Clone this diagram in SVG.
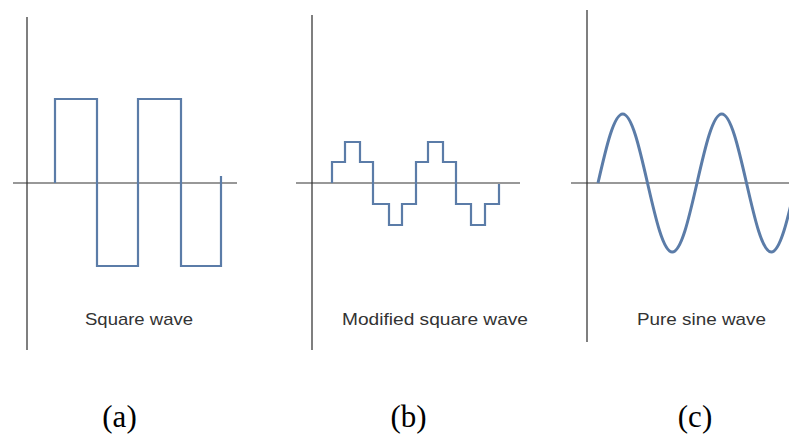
<svg xmlns="http://www.w3.org/2000/svg" width="789" height="434" viewBox="0 0 789 434">
<style>
.axis{stroke:#555;stroke-width:1.5;fill:none}
.haxis{stroke:#333;stroke-width:1.2;fill:none}
.wave{stroke:#5b7ca8;stroke-width:2.2;fill:none;stroke-linejoin:miter}
.sine{stroke:#5b7ca8;stroke-width:3;fill:none}
.lbl{font-family:"Liberation Sans",Arial,sans-serif;font-size:17px;fill:#333}
.cap{font-family:"Liberation Serif","Times New Roman",serif;font-size:31px;fill:#000;text-anchor:middle}
</style>
<rect width="789" height="434" fill="#fff"/>
<g id="panel-a">
<line class="axis" x1="27" y1="17" x2="27" y2="350"/>
<line class="haxis" x1="13" y1="183" x2="237" y2="183"/>
<path class="wave" d="M55,183 V99 H97 V266 H138 V99 H181 V266 H221 V176"/>
<text class="lbl" x="85" y="325" textLength="108" lengthAdjust="spacingAndGlyphs">Square wave</text>
<text class="cap" x="119.5" y="427">(a)</text>
</g>
<g id="panel-b">
<line class="axis" x1="312" y1="15" x2="312" y2="350"/>
<line class="haxis" x1="296" y1="183" x2="520" y2="183"/>
<path class="wave" d="M332,183 V162 H345 V142 H360 V162 H373 V204 H389 V225 H402 V204 H416 V162 H428 V142 H443 V162 H456 V204 H471 V225 H485 V204 H499 V184"/>
<text class="lbl" x="342" y="325" textLength="186" lengthAdjust="spacingAndGlyphs">Modified square wave</text>
<text class="cap" x="408.5" y="427">(b)</text>
</g>
<g id="panel-c">
<line class="axis" x1="587" y1="10" x2="587" y2="342"/>
<line class="haxis" x1="571" y1="183" x2="789" y2="183"/>
<path class="sine" d="M598,183 C606.07,147.65 613.79,114 622.75,114 S639.43,147.65 647.5,183 S663.29,252 672.25,252 S688.93,218.35 697,183 S712.79,114 721.75,114 S738.43,147.65 746.5,183 S762.29,252 771.25,252 S787.93,218.35 796,183"/>
<text class="lbl" x="637" y="325" textLength="129" lengthAdjust="spacingAndGlyphs">Pure sine wave</text>
<text class="cap" x="695" y="427">(c)</text>
</g>
</svg>
